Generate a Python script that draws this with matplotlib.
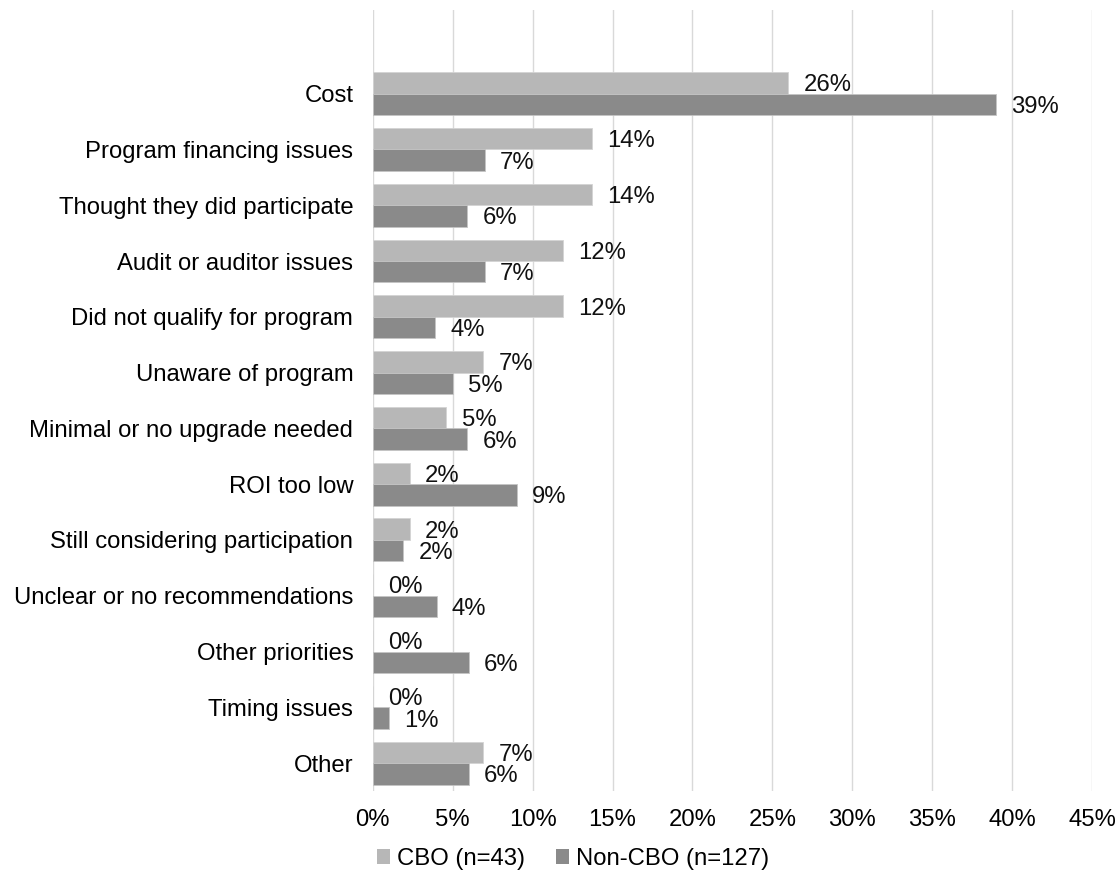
import matplotlib
matplotlib.use("Agg")
import matplotlib.pyplot as plt
from matplotlib.patches import Patch
import numpy as np

categories = ["Cost", "Program financing issues", "Thought they did participate",
              "Audit or auditor issues", "Did not qualify for program",
              "Unaware of program", "Minimal or no upgrade needed", "ROI too low",
              "Still considering participation", "Unclear or no recommendations",
              "Other priorities", "Timing issues", "Other"]
cbo = [26.0, 13.7, 13.7, 11.9, 11.9, 6.9, 4.6, 2.3, 2.3, 0, 0, 0, 6.9]
non_cbo = [39.0, 7.0, 5.9, 7.0, 3.9, 5.0, 5.9, 9.0, 1.9, 4.0, 6.0, 1.0, 6.0]
series_names = ["CBO (n=43)", "Non-CBO (n=127)"]
xticks = [0, 5, 10, 15, 20, 25, 30, 35, 40, 45]

c_cbo = "#b7b7b7"
c_non = "#8a8a8a"

plt.rcParams['font.family'] = ['Liberation Sans', 'DejaVu Sans']
fs = 17.2

fig = plt.figure(figsize=(11.19, 8.83), dpi=100)
ax = fig.add_axes([0.3331, 0.1042, 0.9759 - 0.3331, 0.9887 - 0.1042])

n = len(categories)
y = np.arange(n)[::-1].astype(float)
h = 0.385

ax.barh(y + h / 2, cbo, height=h, color=c_cbo, edgecolor="#d4d4d4", linewidth=0.6, zorder=3)
ax.barh(y - h / 2, non_cbo, height=h, color=c_non, edgecolor="#c4c4c4", linewidth=0.6, zorder=3)

# value labels just past the bar ends
for yy, v in zip(y + h / 2, cbo):
    ax.annotate(f"{v:.0f}%", (v, yy), xytext=(11, 0), textcoords="offset points",
                ha="left", va="center_baseline", fontsize=fs, color="#111111")
for yy, v in zip(y - h / 2, non_cbo):
    ax.annotate(f"{v:.0f}%", (v, yy), xytext=(11, 0), textcoords="offset points",
                ha="left", va="center_baseline", fontsize=fs, color="#111111")

ax.set_xlim(0, 45)
ax.set_ylim(-0.5, n + 0.5)
ax.set_xticks(xticks)
ax.set_xticklabels([f"{t}%" for t in xticks], fontsize=fs)
ax.set_yticks(y)
ax.set_yticklabels(categories, fontsize=fs)
ax.tick_params(axis="both", length=0)
ax.tick_params(axis="x", pad=13)
ax.tick_params(axis="y", pad=14)
ax.grid(axis="x", color="#d9d9d9", linewidth=1.0, zorder=0)
for s in ax.spines.values():
    s.set_visible(False)

handles = [Patch(facecolor=c_cbo), Patch(facecolor=c_non)]
fig.legend(handles, series_names, loc="center", bbox_to_anchor=(573 / 1119, 1 - 859 / 883),
           ncol=2, frameon=False, fontsize=fs, handlelength=0.55, handleheight=0.55,
           handletextpad=0.3, columnspacing=1.3)

fig.savefig("out.png", dpi=100)
